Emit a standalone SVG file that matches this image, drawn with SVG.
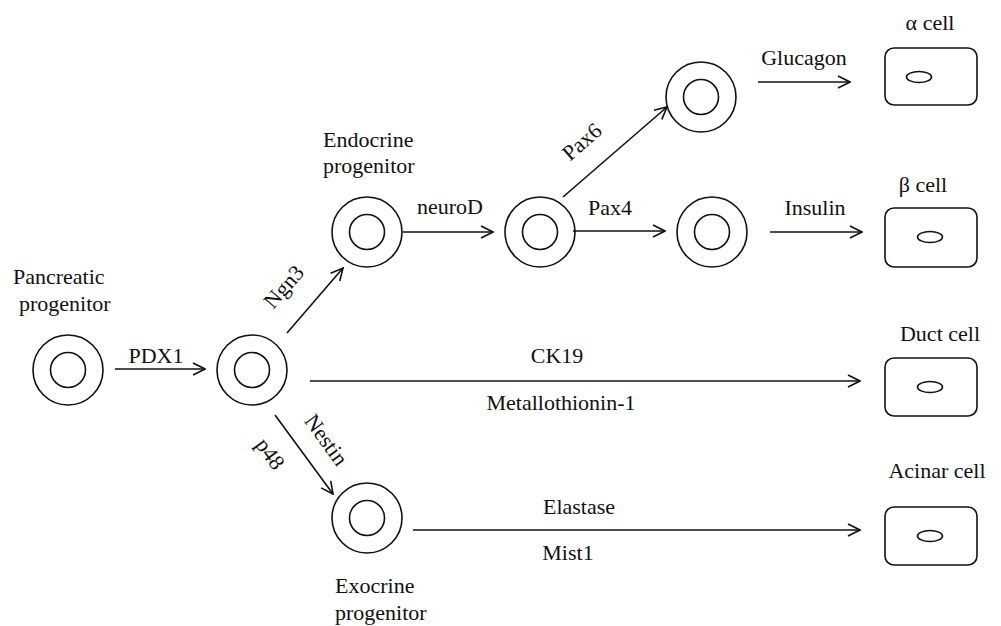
<svg xmlns="http://www.w3.org/2000/svg" width="1001" height="626" viewBox="0 0 1001 626" font-family="'Liberation Serif', 'Times New Roman', serif">
<defs>
<style>
text{font-family:"Liberation Serif","Times New Roman",serif;font-size:22px;fill:#111}
.m{text-anchor:middle}
.cell circle{fill:none;stroke:#111;stroke-width:1.6}
.box rect,.box ellipse{fill:none;stroke:#111;stroke-width:1.6}
#connectors line{stroke:#111;stroke-width:1.6;marker-end:url(#arr)}
</style>
<marker id="arr" viewBox="0 0 14 14" refX="13" refY="7" markerWidth="14" markerHeight="14" markerUnits="userSpaceOnUse" orient="auto">
<path d="M1,1 L13,7 L1,13" fill="none" stroke="#111" stroke-width="1.6"/>
</marker>
</defs>
<rect width="1001" height="626" fill="#fff"/>
<g id="pancreatic" class="cell"><circle cx="68" cy="370" r="35"/><circle cx="68" cy="370" r="17.5"/>
<text x="13" y="284">Pancreatic</text><text x="19" y="311">progenitor</text></g>
<g id="pdx1cell" class="cell"><circle cx="252" cy="370" r="35"/><circle cx="252" cy="370" r="17.5"/></g>
<g id="endocrine" class="cell"><circle cx="367" cy="232" r="35"/><circle cx="367" cy="232" r="17.5"/>
<text x="323" y="147">Endocrine</text><text x="323" y="173">progenitor</text></g>
<g id="neurod" class="cell"><circle cx="540" cy="232" r="35"/><circle cx="540" cy="232" r="17.5"/></g>
<g id="pax6cell" class="cell"><circle cx="701" cy="97" r="35"/><circle cx="701" cy="97" r="17.5"/></g>
<g id="pax4cell" class="cell"><circle cx="712" cy="232" r="35"/><circle cx="712" cy="232" r="17.5"/></g>
<g id="exocrine" class="cell"><circle cx="367" cy="518" r="35"/><circle cx="367" cy="518" r="17.5"/>
<text x="335" y="593">Exocrine</text><text x="335" y="620">progenitor</text></g>
<g id="alpha" class="box"><rect x="885" y="48" width="92" height="57" rx="9"/><ellipse cx="919" cy="77" rx="12.5" ry="5.5"/><text class="m" x="930" y="30">α cell</text></g>
<g id="beta" class="box"><rect x="885" y="208" width="92" height="59" rx="9"/><ellipse cx="930" cy="237" rx="12.5" ry="5.5"/><text class="m" x="923" y="192">β cell</text></g>
<g id="duct" class="box"><rect x="885" y="358" width="92" height="58" rx="9"/><ellipse cx="930" cy="387" rx="12.5" ry="5.5"/><text class="m" x="940" y="341">Duct cell</text></g>
<g id="acinar" class="box"><rect x="885" y="507" width="92" height="58" rx="9"/><ellipse cx="930" cy="536" rx="12.5" ry="5.5"/><text class="m" x="937" y="478">Acinar cell</text></g>
<g id="connectors">
<line x1="115" y1="369" x2="205" y2="369"/>
<line x1="287" y1="333" x2="343" y2="268"/>
<line x1="403" y1="232" x2="493" y2="232"/>
<line x1="563" y1="197" x2="667" y2="107"/>
<line x1="573" y1="231" x2="665" y2="231"/>
<line x1="758" y1="82" x2="850" y2="82"/>
<line x1="770" y1="232" x2="862" y2="232"/>
<line x1="310" y1="381" x2="860" y2="381"/>
<line x1="275" y1="415" x2="333" y2="494"/>
<line x1="413" y1="530" x2="860" y2="530"/>
</g>
<g id="labels">
<text class="m" x="156" y="363">PDX1</text>
<text class="m" x="450" y="214">neuroD</text>
<text class="m" x="610" y="215">Pax4</text>
<text class="m" x="804" y="65">Glucagon</text>
<text class="m" x="815" y="215">Insulin</text>
<text class="m" x="557" y="363">CK19</text>
<text class="m" x="561" y="410">Metallothionin-1</text>
<text class="m" x="579" y="514">Elastase</text>
<text class="m" x="568" y="560">Mist1</text>
<text class="m" transform="translate(284,287) rotate(-49)" y="7">Ngn3</text>
<text class="m" transform="translate(582,142) rotate(-41)" y="7">Pax6</text>
<text class="m" transform="translate(326,440) rotate(54)" y="7">Nestin</text>
<text class="m" transform="translate(270,454) rotate(54)" y="7">p48</text>
</g>
</svg>
